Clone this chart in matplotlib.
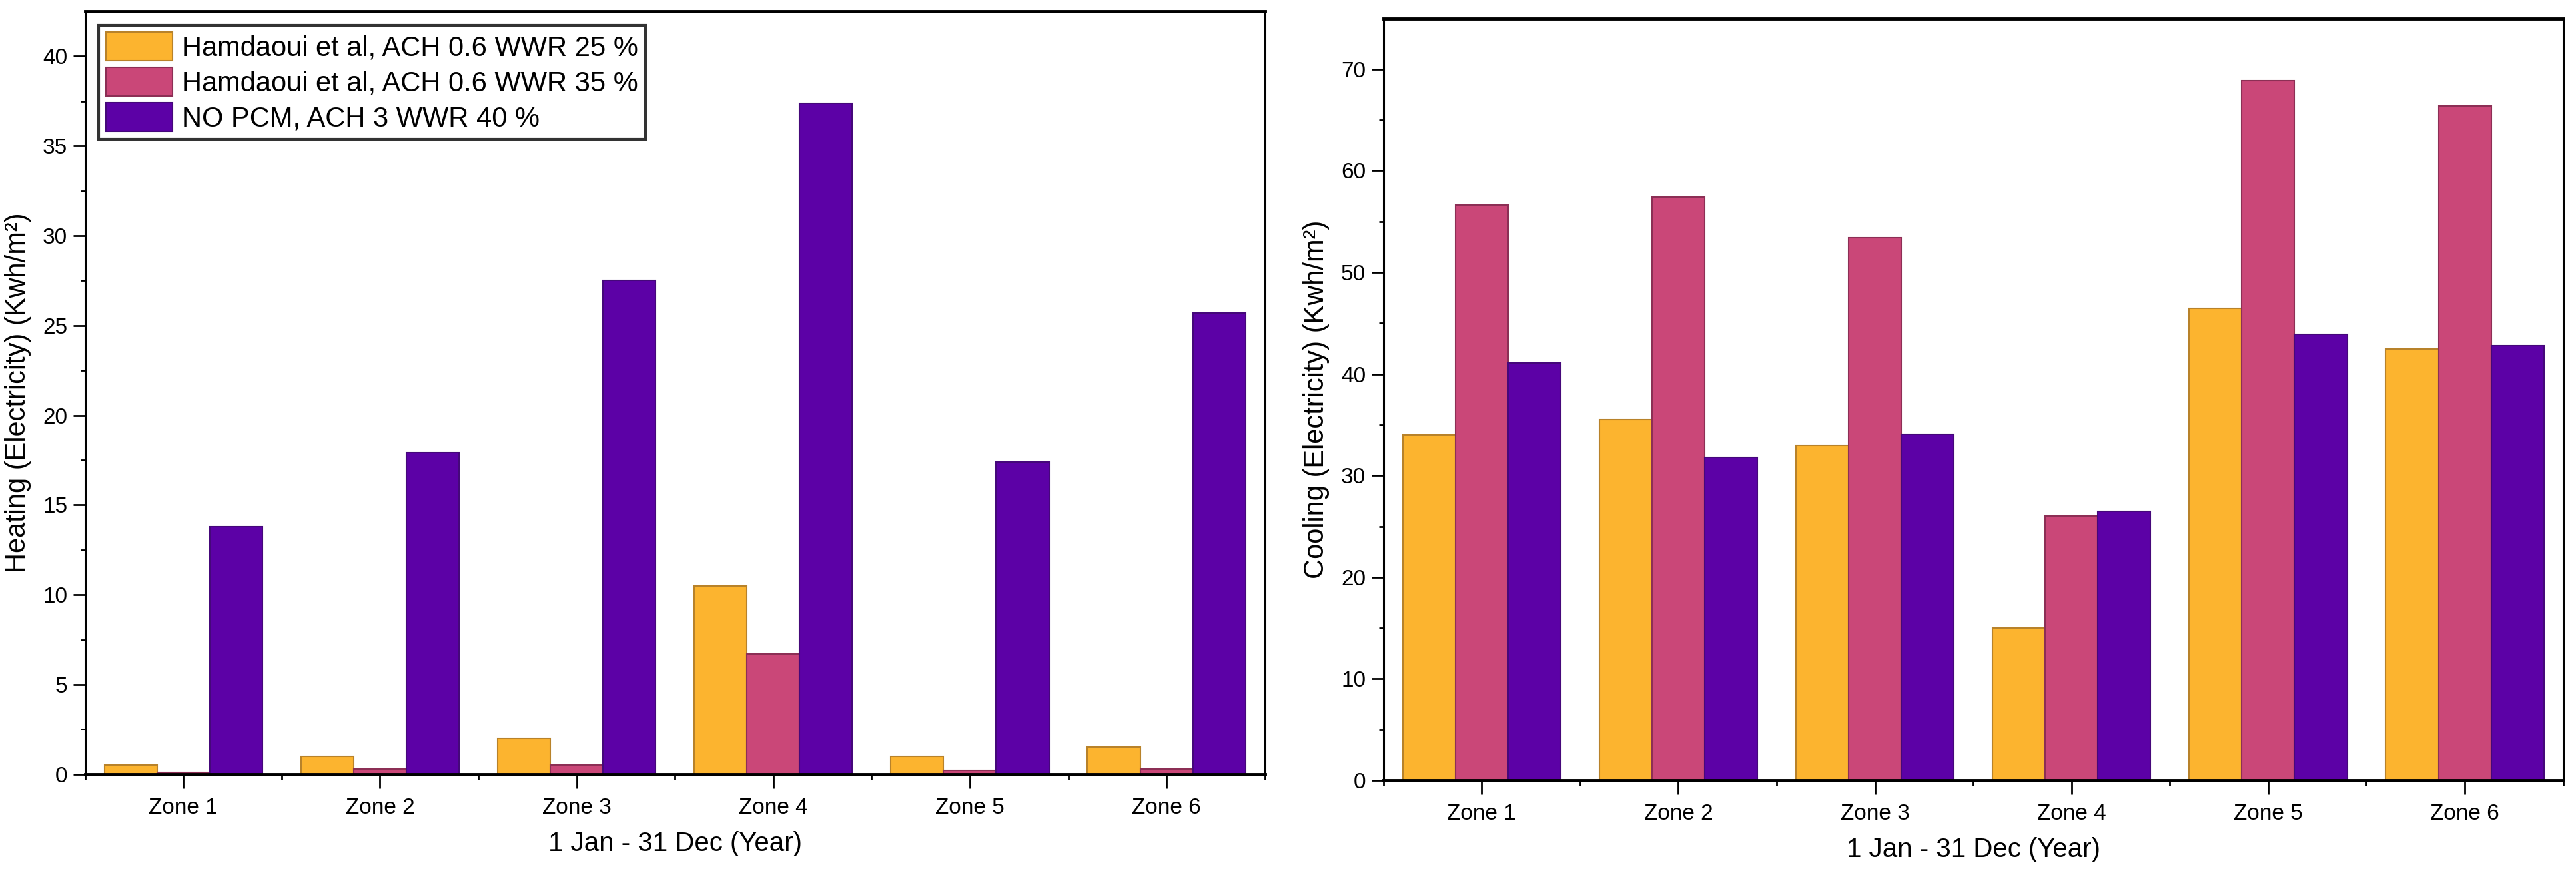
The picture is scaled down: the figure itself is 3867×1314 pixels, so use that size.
import numpy as np
import matplotlib
matplotlib.use("Agg")
import matplotlib.pyplot as plt

plt.rcParams['font.family'] = ['Liberation Sans', 'DejaVu Sans']

zones = ["Zone 1", "Zone 2", "Zone 3", "Zone 4", "Zone 5", "Zone 6"]
series = ["Hamdaoui et al, ACH 0.6 WWR 25 %",
          "Hamdaoui et al, ACH 0.6 WWR 35 %",
          "NO PCM, ACH 3 WWR 40 %"]

heating_wwr25 = [0.5, 1.0, 2.0, 10.5, 1.0, 1.5]
heating_wwr35 = [0.1, 0.3, 0.5, 6.7, 0.2, 0.3]
heating_nopcm = [13.8, 17.9, 27.5, 37.4, 17.4, 25.7]

cooling_wwr25 = [34.0, 35.5, 33.0, 15.0, 46.5, 42.5]
cooling_wwr35 = [56.6, 57.4, 53.4, 26.0, 68.9, 66.4]
cooling_nopcm = [41.1, 31.8, 34.1, 26.5, 43.9, 42.8]

colors = ["#FCB42F", "#CA4778", "#5C01A6"]
edges = ["#B8822A", "#8C2F55", "#45087A"]

fig = plt.figure(figsize=(38.67, 13.14), dpi=100)
ax1 = fig.add_axes([0.033, 0.115, 0.458, 0.872])
ax2 = fig.add_axes([0.537, 0.108, 0.458, 0.871])

x = np.arange(1, 7)
w = 0.268


def draw(ax, data, ylabel, ymax, major, minor):
    for k, vals in enumerate(data):
        ax.bar(x + (k - 1) * w, vals, w, color=colors[k], edgecolor=edges[k],
               linewidth=1.5, label=series[k], zorder=2)
    ax.set_xlim(0.5, 6.5)
    ax.set_ylim(0, ymax)
    ax.set_xticks(x)
    ax.set_xticklabels(zones, fontsize=24)
    ax.set_xticks(np.arange(0.5, 7, 1), minor=True)
    ax.set_yticks(np.arange(0, ymax, major))
    ax.set_yticks(np.arange(0, ymax, minor), minor=True)
    ax.tick_params(axis='y', which='major', labelsize=24, length=13, width=2, direction='out', pad=6)
    ax.tick_params(axis='y', which='minor', length=5, width=2, direction='out')
    ax.tick_params(axis='x', which='major', length=15, width=2, direction='out', pad=10)
    ax.tick_params(axis='x', which='minor', length=6, width=2, direction='out')
    for s in ['left', 'right']:
        ax.spines[s].set_linewidth(2.2)
    for s in ['top', 'bottom']:
        ax.spines[s].set_linewidth(3.5)
    ax.set_xlabel("1 Jan - 31 Dec (Year)", fontsize=29, labelpad=14)
    ax.set_ylabel(ylabel, fontsize=30, labelpad=12)


draw(ax1, [heating_wwr25, heating_wwr35, heating_nopcm],
     "Heating (Electricity) (Kwh/m²)", 42.5, 5, 2.5)
draw(ax2, [cooling_wwr25, cooling_wwr35, cooling_nopcm],
     "Cooling (Electricity) (Kwh/m²)", 75, 10, 5)

leg = ax1.legend(loc='upper left', fontsize=30, frameon=True, fancybox=False,
                 edgecolor='black', borderpad=0.25, labelspacing=0.2,
                 handlelength=2.4, handleheight=1.2, handletextpad=0.35,
                 borderaxespad=0.5)
leg.get_frame().set_linewidth(3)

plt.savefig("out.png", dpi=100)
plt.close()
